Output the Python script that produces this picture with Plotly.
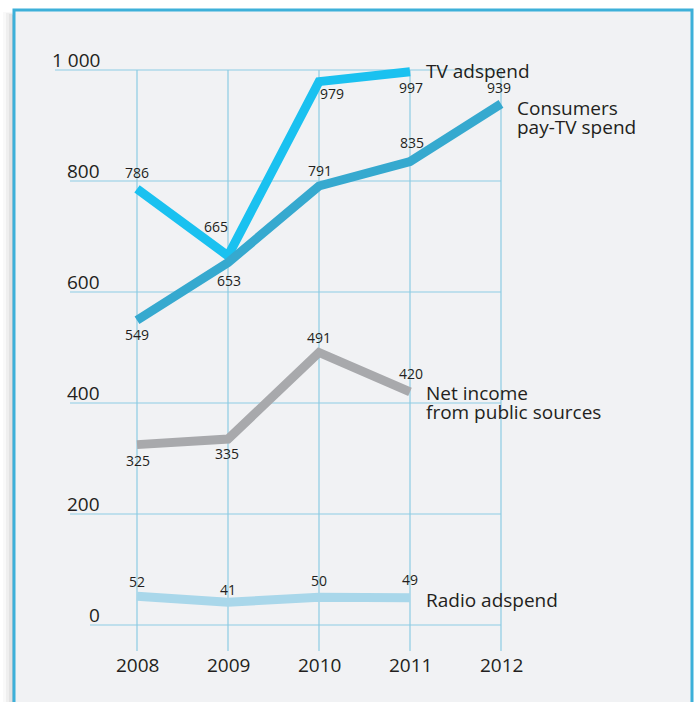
import plotly.graph_objects as go

# ---- data ----
years = [2008, 2009, 2010, 2011, 2012]
tv_adspend = [786, 665, 979, 997]
consumers_paytv = [549, 653, 791, 835, 939]
net_income_public = [325, 335, 491, 420]
radio_adspend = [52, 41, 50, 49]

series_names = ["TV adspend", "Consumers pay-TV spend", "Net income from public sources", "Radio adspend"]
y_ticks = [0, 200, 400, 600, 800, 1000]
y_tick_labels = ["0", "200", "400", "600", "800", "1 000"]

# ---- style ----
W, H = 697, 702
px_per_year = 91.0
x_2008_px = 137.0
px_per_unit = 0.555
y0_px = 625.0

x_range = [2008 - x_2008_px / px_per_year, 2008 + (W - x_2008_px) / px_per_year]
y_range = [-(H - y0_px) / px_per_unit, y0_px / px_per_unit]

FONT = "Open Sans"
TXT = "#231f20"
GRID = "#8dcbe3"

series = [
    dict(name=series_names[0], y=tv_adspend, color="#1ac1f0",
         offs=[(0, 16), (-12, 29), (13, -12), (1, -16)],
         label_lines=["TV adspend"], lshift=(15, 1)),
    dict(name=series_names[1], y=consumers_paytv, color="#36a9cf",
         offs=[(0, -14), (1, -18), (1, 15), (2, 19), (-2, 16)],
         label_lines=["Consumers", "pay-TV spend"], lshift=(15, -4)),
    dict(name=series_names[2], y=net_income_public, color="#a8a9ac",
         offs=[(1, -16), (-1, -14), (0, 15), (1, 18)],
         label_lines=["Net income", "from public sources"], lshift=(15, -1)),
    dict(name=series_names[3], y=radio_adspend, color="#a9d7ea",
         offs=[(0, 15), (0, 13), (0, 17), (0, 18)],
         label_lines=["Radio adspend"], lshift=(15, -2)),
]

fig = go.Figure()
shapes = []
annotations = []

# frame + shadow
for i, op in enumerate([0.05, 0.08, 0.12, 0.18]):
    shapes.append(dict(type="rect", xref="paper", yref="paper",
                       x0=(3 + i * 3) / W, x1=15 / W, y0=-0.05, y1=1 - (12 + i) / H,
                       fillcolor="#808080", opacity=op, line=dict(width=0), layer="below"))
shapes.append(dict(type="rect", xref="paper", yref="paper",
                   x0=14 / W, x1=692 / W, y0=-0.05, y1=1 - 10 / H,
                   fillcolor="#f1f2f4", line=dict(color="#3db0d9", width=3), layer="below"))

# horizontal grid lines (start at left edge of their label)
label_left_px = {0: 90, 200: 70, 400: 70, 600: 70, 800: 70, 1000: 55}
for v, lab in zip(y_ticks, y_tick_labels):
    x0 = 2008 - (x_2008_px - label_left_px[v]) / px_per_year
    shapes.append(dict(type="line", xref="x", yref="y", x0=x0, x1=years[-1], y0=v, y1=v,
                       line=dict(color=GRID, width=1.2), layer="below"))
    annotations.append(dict(xref="paper", yref="y", x=101 / W, y=v, text=lab,
                            xanchor="right", yanchor="bottom", yshift=-4, showarrow=False,
                            borderpad=0,
                            font=dict(family=FONT, size=19, color=TXT)))
# vertical grid lines
for yr in years:
    shapes.append(dict(type="line", xref="x", yref="y", x0=yr, x1=yr,
                       y0=y_ticks[-1], y1=-(651 - y0_px) / px_per_unit,
                       line=dict(color=GRID, width=1.2), layer="below"))
    annotations.append(dict(xref="x", yref="y", x=yr, y=-(665 - y0_px) / px_per_unit,
                            text=str(yr), showarrow=False, borderpad=0,
                            font=dict(family=FONT, size=19, color=TXT)))

for s in series:
    n = len(s["y"])
    xs = years[:n]
    fig.add_trace(go.Scatter(x=xs, y=s["y"], mode="lines", name=s["name"],
                             line=dict(color=s["color"], width=9), hoverinfo="skip",
                             showlegend=False))
    for xv, yv, (dx, dy) in zip(xs, s["y"], s["offs"]):
        annotations.append(dict(xref="x", yref="y", x=xv, y=yv, text=str(yv),
                                xshift=dx, yshift=dy, showarrow=False, borderpad=0,
                                font=dict(family=FONT, size=14, color=TXT)))
    lines = s["label_lines"]
    sx, sy = s["lshift"]
    for i, ln in enumerate(lines):
        annotations.append(dict(xref="x", yref="y", x=xs[-1], y=s["y"][-1], text=ln,
                                xanchor="left", xshift=sx, yshift=sy - i * 19,
                                showarrow=False, borderpad=0,
                                font=dict(family=FONT, size=19, color=TXT)))

fig.update_layout(
    width=W, height=H,
    margin=dict(l=0, r=0, t=0, b=0),
    paper_bgcolor="white", plot_bgcolor="rgba(0,0,0,0)",
    xaxis=dict(range=x_range, visible=False, fixedrange=True),
    yaxis=dict(range=y_range, visible=False, fixedrange=True),
    shapes=shapes, annotations=annotations,
)

fig.write_html("out.html", config={"displayModeBar": False},
               post_script="document.body.style.margin='0';document.body.style.overflow='hidden';")
